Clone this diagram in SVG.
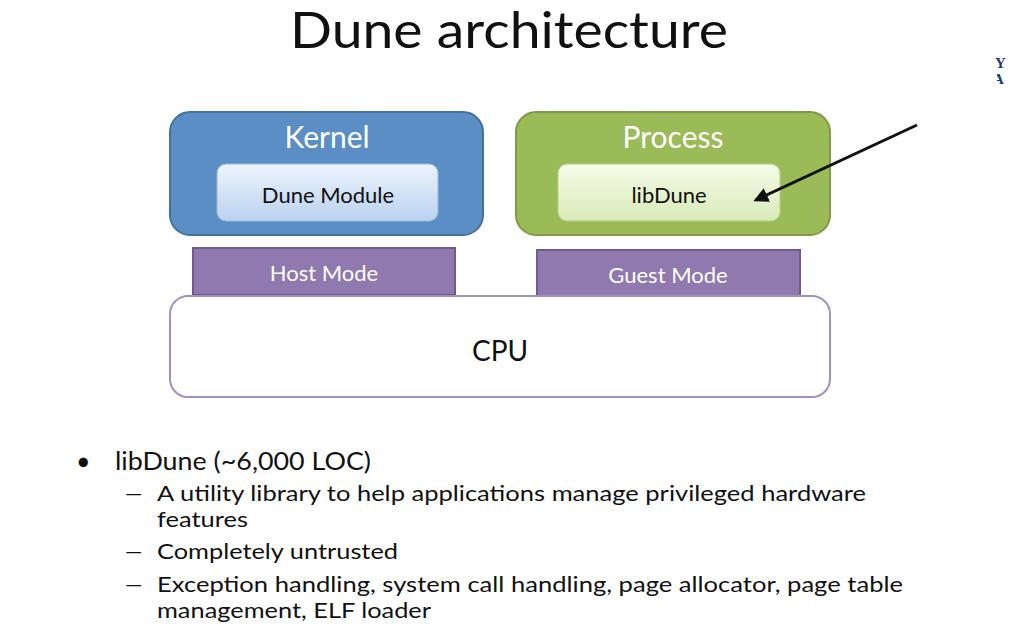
<svg xmlns="http://www.w3.org/2000/svg" width="1024" height="640" viewBox="0 0 1024 640">
<defs>
<linearGradient id="gBlue" x1="0" y1="0" x2="0" y2="1"><stop offset="0" stop-color="#eef4fc"/><stop offset="1" stop-color="#b9d2f0"/></linearGradient>
<linearGradient id="gGreen" x1="0" y1="0" x2="0" y2="1"><stop offset="0" stop-color="#f5fbe8"/><stop offset="1" stop-color="#d9eab8"/></linearGradient>
<marker id="ah" viewBox="0 0 10 10" refX="8" refY="5" markerWidth="5" markerHeight="5" orient="auto"><path d="M0,0 L10,5 L0,10 z" fill="#111"/></marker>
<style>
text{font-family:Lato,"Open Sans","Liberation Sans",sans-serif}
.hd{fill:#fff;font-size:30px;text-anchor:middle}
.in{fill:#111;font-size:22px;text-anchor:middle}
.md{fill:#fff;font-size:22px;text-anchor:middle}
.b1{fill:#111;font-size:25px}
.b2{fill:#111;font-size:22px}
.dash{fill:#111;font-size:22px}
</style>
</defs>
<rect width="1024" height="640" fill="#fff"/>
<text x="509" y="48" text-anchor="middle" font-size="50" fill="#111" textLength="438" lengthAdjust="spacingAndGlyphs">Dune architecture</text>
<text x="995" y="68" font-size="15" font-weight="bold" fill="#1f3a6e" style="font-family:'Liberation Serif',serif">Y</text>
<text x="993" y="84" font-size="15" font-weight="bold" fill="#1f3a6e" style="font-family:'Liberation Serif',serif" clip-path="inset(0 0 0 4px)">A</text>
<g id="kernel">
<rect x="170" y="112" width="313" height="123" rx="20" fill="#5b8ec4" stroke="#44729f" stroke-width="2"/>
<text class="hd" x="327" y="148">Kernel</text>
</g>
<g id="dune-module">
<rect x="217" y="164" width="221" height="57" rx="9" fill="url(#gBlue)" stroke="#9db9dc" stroke-width="1"/>
<text class="in" x="328" y="203">Dune Module</text>
</g>
<g id="process">
<rect x="516" y="112" width="314" height="123" rx="20" fill="#9bbb59" stroke="#7e9a46" stroke-width="2"/>
<text class="hd" x="673" y="148">Process</text>
</g>
<g id="libdune">
<rect x="558" y="164" width="222" height="57" rx="9" fill="url(#gGreen)" stroke="#b7cf8a" stroke-width="1"/>
<text class="in" x="669" y="203">libDune</text>
</g>
<g id="host-mode">
<rect x="193" y="248" width="262" height="47" fill="#8f79ae" stroke="#6f5b8d" stroke-width="2"/>
<text class="md" x="324" y="281">Host Mode</text>
</g>
<g id="guest-mode">
<rect x="537" y="250" width="263" height="46" fill="#8f79ae" stroke="#6f5b8d" stroke-width="2"/>
<text class="md" x="668" y="283">Guest Mode</text>
</g>
<g id="cpu">
<rect x="170" y="296" width="660" height="101" rx="18" fill="#fff" stroke="#a190c2" stroke-width="2"/>
<text x="500" y="361" text-anchor="middle" font-size="28" fill="#111">CPU</text>
</g>
<g id="connectors">
<line x1="917" y1="125" x2="756" y2="200" stroke="#111" stroke-width="3" marker-end="url(#ah)"/>
</g>
<g id="bullets">
<text class="b1" x="76" y="470">•</text>
<text class="b1" x="115" y="470" textLength="256" lengthAdjust="spacingAndGlyphs">libDune (~6,000 LOC)</text>
<text class="dash" x="125" y="501">—</text>
<text class="b2" x="157" y="501" textLength="709" lengthAdjust="spacingAndGlyphs">A utility library to help applications manage privileged hardware</text>
<text class="b2" x="157" y="527" textLength="91" lengthAdjust="spacingAndGlyphs">features</text>
<text class="dash" x="125" y="559">—</text>
<text class="b2" x="157" y="559" textLength="241" lengthAdjust="spacingAndGlyphs">Completely untrusted</text>
<text class="dash" x="125" y="592">—</text>
<text class="b2" x="157" y="592" textLength="746" lengthAdjust="spacingAndGlyphs">Exception handling, system call handling, page allocator, page table</text>
<text class="b2" x="157" y="618" textLength="274" lengthAdjust="spacingAndGlyphs">management, ELF loader</text>
</g>
</svg>
